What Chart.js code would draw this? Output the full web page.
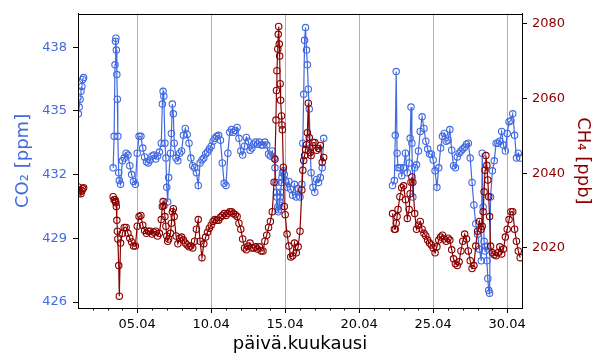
<!DOCTYPE html>
<html>
<head>
<meta charset="utf-8">
<script src="https://cdn.jsdelivr.net/npm/chart.js@4/dist/chart.umd.min.js"></script>
<style>
  html, body { margin: 0; padding: 0; background: #ffffff; }
  #c { display: block; }
</style>
</head>
<body>
<canvas id="c" width="600" height="360"></canvas>
<script>
// ---------- data (day of April, fractional) ----------
const days1 = [1.02, 1.08, 1.14, 1.2, 1.26, 1.32, 1.38];
const co2_1 = [434.86, 435.18, 435.55, 435.92, 436.15, 436.48, 436.57];
const ch4_1 = [2036.3, 2035.5, 2035.0, 2034.5, 2035.3, 2035.8, 2036.1];

const days2 = [
  3.375, 3.44, 3.5, 3.53, 3.56, 3.59, 3.625, 3.66, 3.69, 3.75, 3.79, 3.875,
  4, 4.125, 4.25, 4.375, 4.5, 4.625, 4.75, 4.875,
  5, 5.125, 5.25, 5.375, 5.5, 5.625, 5.75, 5.875,
  6, 6.125, 6.25, 6.375, 6.5, 6.625, 6.7, 6.75, 6.8, 6.875, 6.94,
  7, 7.06, 7.125, 7.25, 7.31, 7.375, 7.44, 7.5, 7.625, 7.75, 7.875,
  8, 8.125, 8.25, 8.375, 8.5, 8.625, 8.75, 8.875,
  9, 9.125, 9.25, 9.375, 9.5, 9.625, 9.75, 9.875,
  10, 10.125, 10.25, 10.375, 10.5, 10.625, 10.75, 10.875,
  11, 11.125, 11.25, 11.375, 11.5, 11.625, 11.75, 11.875,
  12, 12.125, 12.25, 12.375, 12.5, 12.625, 12.75, 12.875,
  13, 13.125, 13.25, 13.375, 13.5, 13.625, 13.75, 13.875,
  14, 14.125, 14.25, 14.31, 14.375, 14.41, 14.44, 14.5, 14.53, 14.56, 14.6, 14.625, 14.66, 14.69, 14.75, 14.78, 14.81, 14.875, 14.94,
  15, 15.125, 15.25, 15.375, 15.5, 15.625, 15.75, 15.875,
  16, 16.125, 16.19, 16.25, 16.31, 16.375, 16.44, 16.5, 16.56, 16.625, 16.69, 16.75, 16.875,
  17, 17.125, 17.25, 17.375, 17.5, 17.6
];
const co2_2 = [
  432.32, 433.80, 437.17, 438.28, 438.42, 437.86, 436.71, 435.55, 433.80, 432.09, 431.72, 431.54,
  432.65, 432.78, 433.01, 432.92, 432.42, 432.00, 431.68, 431.54,
  433.01, 433.80, 433.80, 433.25, 432.83, 432.60, 432.55, 432.69,
  432.88, 432.92, 432.74, 432.88, 433.06, 433.48, 435.32, 435.92, 435.69, 433.48, 432.78,
  431.40, 430.71, 431.86, 433.01, 433.94, 435.32, 434.86, 433.48, 432.78, 432.65, 433.01,
  433.11, 433.85, 434.17, 433.89, 433.48, 432.78, 432.42, 432.32,
  432.09, 431.49, 432.55, 432.69, 432.78, 432.97, 433.06, 433.20,
  433.34, 433.57, 433.71, 433.80, 433.85, 433.62, 432.55, 431.59,
  431.49, 433.01, 433.99, 434.12, 433.99, 434.08, 434.22, 433.71,
  433.11, 432.92, 433.34, 433.75, 433.57, 433.15, 433.25, 433.43,
  433.53, 433.43, 433.53, 433.39, 433.39, 433.53, 433.39, 432.97,
  432.88, 433.11, 432.78, 432.32, 431.63, 431.17, 430.94, 430.48, 430.25, 430.34, 430.57, 430.71, 430.94, 431.17, 431.63, 431.86, 432.09, 432.18, 432.00,
  431.72, 431.40, 431.68, 431.31, 431.03, 431.54, 430.94, 431.35,
  430.94, 431.54, 433.48, 435.78, 438.32, 438.92, 437.86, 437.17, 436.02, 435.09, 433.25, 432.09, 431.40,
  431.17, 431.77, 431.63, 431.86, 432.32, 433.71
];
const ch4_2 = [
  2033.7, 2032.9, 2032.9, 2032.4, 2032.1, 2031.1, 2027.4, 2024.5, 2022.4, 2015.3, 2007.1, 2021.3,
  2023.9, 2025.5, 2025.5, 2023.9, 2022.6, 2021.6, 2020.5, 2020.5,
  2025.8, 2028.4, 2028.7, 2026.1, 2024.7, 2023.9, 2024.5, 2024.5,
  2023.7, 2024.2, 2024.5, 2023.2, 2023.9, 2027.6, 2031.1, 2032.4, 2031.3, 2028.4, 2025.8,
  2023.2, 2021.8, 2022.4, 2023.9, 2026.6, 2029.7, 2030.5, 2028.4, 2023.2, 2021.1, 2022.6,
  2022.9, 2022.1, 2021.3, 2020.8, 2020.3, 2020.5, 2020.0, 2021.8,
  2025.0, 2027.6, 2021.8, 2017.4, 2021.1, 2022.9, 2024.2, 2025.3,
  2026.1, 2027.1, 2027.6, 2027.4, 2027.4, 2028.2, 2028.7, 2029.2,
  2028.7, 2029.2, 2029.7, 2029.7, 2029.2, 2028.9, 2028.4, 2026.6,
  2025.0, 2022.4, 2020.0, 2019.5, 2020.5, 2021.3, 2020.0, 2020.0,
  2020.3, 2019.7, 2020.3, 2019.2, 2019.2, 2021.8, 2023.4, 2025.5,
  2027.1, 2029.7, 2037.6, 2043.7, 2054.2, 2062.1, 2067.4, 2073.2, 2077.1, 2079.2, 2074.5, 2071.3, 2063.9, 2059.5, 2055.3, 2052.9, 2051.6, 2041.6, 2031.1,
  2028.9, 2023.7, 2020.5, 2017.6, 2017.9, 2021.3, 2018.7, 2020.3,
  2024.5, 2035.5, 2040.8, 2043.4, 2044.7, 2046.3, 2047.6, 2050.8, 2058.7, 2049.5, 2045.5, 2044.7, 2048.2,
  2048.2, 2046.1, 2046.6, 2047.4, 2042.9, 2044.2
];

const days3 = [
  22.25, 22.375, 22.44, 22.5, 22.56, 22.625, 22.75, 22.875,
  23, 23.125, 23.25, 23.375, 23.44, 23.5, 23.56, 23.625, 23.75, 23.875,
  24, 24.125, 24.25, 24.375, 24.5, 24.625, 24.75, 24.875,
  25, 25.125, 25.25, 25.375, 25.5, 25.625, 25.75, 25.875,
  26, 26.125, 26.25, 26.375, 26.5, 26.625, 26.75, 26.875,
  27, 27.125, 27.25, 27.375, 27.5, 27.625, 27.75, 27.875,
  28, 28.125, 28.25, 28.31, 28.375, 28.44, 28.5, 28.56, 28.625, 28.69, 28.75, 28.81, 28.875,
  29, 29.125, 29.25, 29.375, 29.5, 29.625, 29.75, 29.875,
  30, 30.125, 30.25, 30.375, 30.5, 30.625, 30.75, 30.875
];
const co2_3 = [
  431.49, 431.72, 433.85, 436.85, 433.01, 432.32, 432.32, 431.95,
  432.32, 433.01, 432.09, 432.55, 433.71, 435.18, 433.48, 430.94, 432.32, 432.46,
  433.11, 434.03, 434.72, 434.17, 433.57, 433.20, 432.97, 432.97,
  432.69, 432.18, 431.40, 432.32, 433.25, 433.80, 433.94, 433.57,
  433.62, 434.12, 433.15, 432.42, 432.32, 432.83, 433.01, 433.11,
  433.20, 433.29, 433.43, 433.48, 432.78, 431.63, 430.57, 429.69,
  429.19, 428.49, 427.94, 433.01, 430.48, 428.86, 428.40, 428.63, 427.94, 427.11, 426.55, 426.42, 430.94,
  432.18, 432.65, 433.48, 433.48, 433.57, 434.03, 433.39, 433.11,
  433.94, 434.49, 434.54, 434.86, 433.85, 432.78, 433.01, 432.78
];
const ch4_3 = [
  2029.2, 2025.0, 2025.0, 2026.6, 2028.4, 2030.3, 2033.7, 2036.1,
  2036.6, 2032.9, 2027.9, 2030.3, 2034.5, 2037.6, 2039.0, 2037.6, 2029.2, 2025.0,
  2026.1, 2027.1, 2025.0, 2023.9, 2023.2, 2022.1, 2021.3, 2020.8,
  2020.0, 2018.7, 2020.3, 2022.1, 2022.9, 2023.4, 2022.4, 2021.8,
  2022.6, 2022.1, 2019.5, 2017.1, 2015.8, 2015.3, 2016.3, 2019.2,
  2021.8, 2023.7, 2022.4, 2019.2, 2016.6, 2014.5, 2015.3, 2020.5,
  2024.5, 2027.1, 2025.0, 2025.8, 2029.7, 2035.0, 2040.8, 2044.7, 2042.1, 2038.2, 2033.7, 2028.4, 2020.5,
  2018.7, 2018.2, 2017.9, 2018.7, 2020.3, 2018.4, 2019.7, 2022.9,
  2025.0, 2027.6, 2029.7, 2029.7, 2025.0, 2021.8, 2019.2, 2017.4
];

// days with no measurements (break the line)
const gapDays = [2.4, 20];

const xTicks = [5, 10, 15, 20, 25, 30];
const xMinorTicks = [2, 3, 4, 6, 7, 8, 9, 11, 12, 13, 14, 16, 17, 18, 19, 21, 22, 23, 24, 26, 27, 28, 29];
const co2Ticks = [426, 429, 432, 435, 438];
const ch4Ticks = [2020, 2040, 2060, 2080];

// ---------- build series ----------
function seg(d, v) { return d.map((x, i) => ({ x: x, y: v[i] })); }
const co2Data = [].concat(
  seg(days1, co2_1), [{ x: gapDays[0], y: null }],
  seg(days2, co2_2), [{ x: gapDays[1], y: null }],
  seg(days3, co2_3));
const ch4Data = [].concat(
  seg(days1, ch4_1), [{ x: gapDays[0], y: null }],
  seg(days2, ch4_2), [{ x: gapDays[1], y: null }],
  seg(days3, ch4_3));

const BLUE = '#4169E1';
const RED = '#8B0000';
const FONT = 'DejaVu Sans';

const framePlugin = {
  id: 'frame',
  afterDraw(chart) {
    const { ctx, chartArea: a, scales } = chart;
    ctx.save();
    ctx.strokeStyle = '#000';
    ctx.lineWidth = 1;
    // minor ticks on x axis
    ctx.beginPath();
    xMinorTicks.forEach(d => {
      const px = Math.round(scales.x.getPixelForValue(d)) + 0.5;
      ctx.moveTo(px, a.bottom);
      ctx.lineTo(px, a.bottom + 2.5);
    });
    ctx.stroke();
    // full frame
    ctx.strokeRect(Math.round(a.left) + 0.5, Math.round(a.top) + 0.5,
      Math.round(a.right - a.left), Math.round(a.bottom - a.top));
    ctx.restore();
  }
};

new Chart(document.getElementById('c'), {
  type: 'line',
  data: {
    datasets: [
      {
        label: 'CH4',
        data: ch4Data,
        yAxisID: 'y1',
        order: 1,
        borderColor: RED,
        borderWidth: 1.2,
        pointStyle: 'circle',
        pointRadius: 3.2,
        pointBorderWidth: 1.1,
        pointBorderColor: RED,
        pointBackgroundColor: 'rgba(0,0,0,0)',
        spanGaps: false,
        tension: 0
      },
      {
        label: 'CO2',
        data: co2Data,
        yAxisID: 'y',
        order: 2,
        borderColor: BLUE,
        borderWidth: 1.2,
        pointStyle: 'circle',
        pointRadius: 3.2,
        pointBorderWidth: 1.1,
        pointBorderColor: BLUE,
        pointBackgroundColor: 'rgba(0,0,0,0)',
        spanGaps: false,
        tension: 0
      }
    ]
  },
  options: {
    responsive: false,
    devicePixelRatio: 1,
    animation: false,
    layout: { padding: { top: 8, left: 0, right: 0, bottom: 0 } },
    plugins: { legend: { display: false }, tooltip: { enabled: false } },
    scales: {
      x: {
        type: 'linear',
        position: 'bottom',
        min: 1,
        max: 31,
        afterBuildTicks: s => { s.ticks = xTicks.map(v => ({ value: v })); },
        afterFit: s => { s.height = 52; },
        ticks: {
          autoSkip: false,
          maxRotation: 0,
          padding: 4,
          color: '#000',
          font: { family: FONT, size: 13 },
          callback: v => String(v).padStart(2, '0') + '.04'
        },
        grid: { color: '#b0b0b0', lineWidth: 1, tickColor: '#000', tickLength: 5 },
        border: { display: true, color: '#000', width: 1 },
        title: {
          display: true,
          text: 'päivä.kuukausi',
          color: '#000',
          font: { family: FONT, size: 18 },
          padding: { top: 0, bottom: 5 }
        }
      },
      y: {
        type: 'linear',
        position: 'left',
        min: 425.72,
        max: 439.57,
        afterBuildTicks: s => { s.ticks = co2Ticks.map(v => ({ value: v })); },
        afterFit: s => { s.width = 78; },
        ticks: { color: BLUE, padding: 6, font: { family: FONT, size: 13 }, callback: v => String(v) },
        grid: { drawOnChartArea: false, tickColor: '#000', tickLength: 5 },
        border: { display: true, color: '#000', width: 1 },
        title: {
          display: true,
          text: 'CO₂ [ppm]',
          color: BLUE,
          font: { family: FONT, size: 18 },
          padding: { top: 13, bottom: 0 }
        }
      },
      y1: {
        type: 'linear',
        position: 'right',
        min: 2003.95,
        max: 2082.6,
        afterBuildTicks: s => { s.ticks = ch4Ticks.map(v => ({ value: v })); },
        afterFit: s => { s.width = 78; },
        ticks: { color: RED, padding: 5, font: { family: FONT, size: 13 }, callback: v => String(v) },
        grid: { drawOnChartArea: false, tickColor: '#000', tickLength: 5 },
        border: { display: true, color: '#000', width: 1 },
        title: {
          display: true,
          text: 'CH₄ [ppb]',
          color: RED,
          font: { family: FONT, size: 18 },
          padding: { top: 7, bottom: 0 }
        }
      }
    }
  },
  plugins: [framePlugin]
});
</script>
</body>
</html>
